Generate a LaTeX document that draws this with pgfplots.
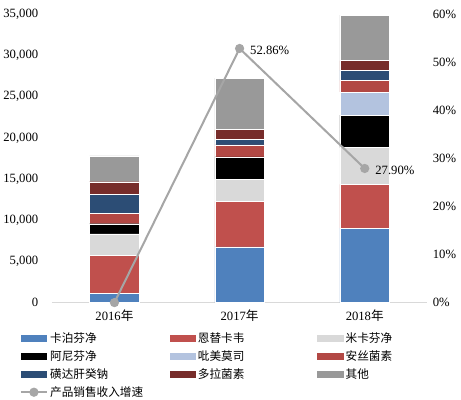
\documentclass[border=0pt]{standalone}
\usepackage{fontspec}
\setmainfont{Liberation Serif}
\newfontfamily\cjk{Noto Sans CJK SC}
\usepackage{pgfplots}
\usepackage{pgfplotstable}
\pgfplotsset{compat=1.18}
\definecolor{c1}{HTML}{4F81BD}
\definecolor{c2}{HTML}{C0504D}
\definecolor{c3}{HTML}{D9D9D9}
\definecolor{c4}{HTML}{000000}
\definecolor{c5}{HTML}{B3C3DF}
\definecolor{c6}{HTML}{B24844}
\definecolor{c7}{HTML}{2C4D75}
\definecolor{c8}{HTML}{772C2A}
\definecolor{c9}{HTML}{999999}
\definecolor{cl}{HTML}{A6A6A6}
\pgfplotstableread{
x kabo enti mika ani pimei ansi huangda duola other
0 1140 4580 2625 1225 0 1230 2330 1545 3115
1 6750 5520 2700 2700 0 1470 650 1230 6220
2 9030 5330 4450 3930 2820 1430 1230 1140 5520
}\bardata
\pgfplotstableread{
x g
0 0
1 52.86
2 27.90
}\linedata
\pgfplotsset{
  barleg/.style={legend image code/.code={\fill[##1,draw=none] (0pt,-3.5pt) rectangle (26pt,3.5pt);}},
  lineleg/.style={legend image code/.code={\draw[##1,mark=none] (0pt,0pt) -- (26pt,0pt); \fill[cl] (13pt,0pt) circle (3.5pt);}},
}
\newcommand{\legtxt}[1]{\makebox[112pt][l]{\cjk #1}}
\begin{document}
\begin{tikzpicture}
\begin{axis}[
  width=371pt, height=285pt, scale only axis,
  xmin=-0.5, xmax=2.5, ymin=0, ymax=35000,
  ybar stacked, bar width=49pt,
  xtick={0,1,2}, xticklabels={2016{\cjk 年},2017{\cjk 年},2018{\cjk 年}},
  ytick={0,5000,...,35000},
  tick style={draw=none},
  axis x line*=bottom, axis y line*=left,
  x axis line style={draw=black!15, line width=0.8pt},
  y axis line style={draw=none},
  tick label style={font=\fontsize{12.5}{14}\selectfont},
  /pgf/number format/assume math mode=true,
  /pgf/number format/1000 sep={,},
  scaled y ticks=false,
  yticklabel style={xshift=-10pt},
  xticklabel style={yshift=-4pt},
  legend columns=3,
  legend cell align=left,
  legend style={at={(rel axis cs:-0.086,-0.096)}, anchor=north west, draw=none,
    font=\fontsize{11.5}{12}\selectfont, inner sep=0pt,
    /tikz/every even column/.append style={column sep=4pt},
    row sep=2.6pt},
]
\addplot[fill=c1, draw=white, line width=0.3pt, barleg] table[x=x,y=kabo]{\bardata};
\addlegendentry{\legtxt{卡泊芬净}}
\addplot[fill=c2, draw=white, line width=0.3pt, barleg] table[x=x,y=enti]{\bardata};
\addlegendentry{\legtxt{恩替卡韦}}
\addplot[fill=c3, draw=white, line width=0.3pt, barleg] table[x=x,y=mika]{\bardata};
\addlegendentry{\legtxt{米卡芬净}}
\addplot[fill=c4, draw=white, line width=0.3pt, barleg] table[x=x,y=ani]{\bardata};
\addlegendentry{\legtxt{阿尼芬净}}
\addplot[fill=c5, draw=white, line width=0.3pt, barleg] table[x=x,y=pimei]{\bardata};
\addlegendentry{\legtxt{吡美莫司}}
\addplot[fill=c6, draw=white, line width=0.3pt, barleg] table[x=x,y=ansi]{\bardata};
\addlegendentry{\legtxt{安丝菌素}}
\addplot[fill=c7, draw=white, line width=0.3pt, barleg] table[x=x,y=huangda]{\bardata};
\addlegendentry{\legtxt{磺达肝癸钠}}
\addplot[fill=c8, draw=white, line width=0.3pt, barleg] table[x=x,y=duola]{\bardata};
\addlegendentry{\legtxt{多拉菌素}}
\addplot[fill=c9, draw=white, line width=0.3pt, barleg] table[x=x,y=other]{\bardata};
\addlegendentry{\legtxt{其他}}
\addlegendimage{color=cl, line width=2pt, lineleg}
\addlegendentry{\legtxt{产品销售收入增速}}
\coordinate (topmid) at (rel axis cs:0.5,1);
\end{axis}
\begin{axis}[
  width=371pt, height=285pt, scale only axis,
  xmin=-0.5, xmax=2.5, ymin=0, ymax=60,
  axis x line=none, axis y line*=right,
  y axis line style={draw=none},
  tick style={draw=none},
  ytick={0,10,...,60},
  yticklabel={\pgfmathprintnumber{\tick}\%},
  tick label style={font=\fontsize{12.5}{14}\selectfont},
  /pgf/number format/assume math mode=true,
  yticklabel style={xshift=2pt},
]
\addplot[color=cl, line width=2pt, mark=*, mark size=3.5pt, mark options={fill=cl, draw=cl}] table[x=x,y=g]{\linedata};
\addplot[draw=none, mark=none, nodes near coords, point meta=explicit symbolic,
  every node near coord/.append style={anchor=west, xshift=7pt, yshift=-2pt, font=\fontsize{12.5}{14}\selectfont, text=black}]
  coordinates {(1,52.86) [52.86\%] (2,27.90) [27.90\%]};
\end{axis}
\path (topmid) ++(0,14pt);
\end{tikzpicture}
\end{document}
